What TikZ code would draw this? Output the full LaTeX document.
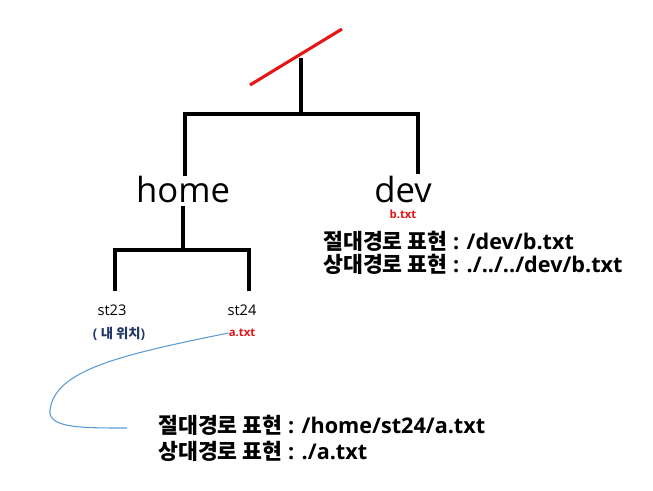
\documentclass[tikz,border=0pt]{standalone}
\usepackage{fontspec}
\setmainfont{Open Sans}
\newfontfamily\kr{Noto Sans CJK KR}
\definecolor{myred}{RGB}{230,20,20}
\definecolor{mynavy}{RGB}{31,56,100}
\definecolor{myblue}{RGB}{91,155,213}
\tikzset{
  tree/.style={line width=2.3pt, black},
  big/.style={font=\fontsize{26}{30}\selectfont, inner sep=0pt},
  small/.style={font=\fontsize{11}{13}\selectfont, inner sep=0pt},
  fname/.style={font=\bfseries\fontsize{8.5}{10}\selectfont, text=myred, inner sep=0pt},
  note/.style={inner sep=0pt, anchor=west, align=left},
}
\begin{document}
\begin{tikzpicture}[x=0.75pt,y=-0.75pt]
\useasboundingbox (0,0) rectangle (653,490);
% root
\coordinate (r1) at (250,85);
\coordinate (r2) at (342,29);
\draw[line width=2.3pt, myred] (r1) -- (r2);
\coordinate (root) at (301,58);
\coordinate (rootj) at (301,114);
\coordinate (homeTop) at (185,176);
\coordinate (devTop) at (418,174);
\draw[tree] (root) -- (rootj);
\draw[tree] (homeTop) |- (rootj) -| (devTop);
% level 1
\node[big] (home) at (183,189) {home};
\node[big] (dev) at (403,189) {dev};
\node[fname] (btxt) at (403,214) {b.txt};
% home children
\coordinate (homeBot) at (183,206);
\coordinate (homej) at (183,250);
\coordinate (st23Top) at (115,291);
\coordinate (st24Top) at (249,291);
\draw[tree] (homeBot) -- (homej);
\draw[tree] (st23Top) |- (homej) -| (st24Top);
\node[small] (st23) at (112,310) {st23};
\node[small] (st24) at (242,310) {st24};
\node[font=\bfseries\fontsize{10}{12}\selectfont, text=mynavy, inner sep=0pt] (pos) at (119,334) {( {\kr 내 위치})};
\node[fname] (atxt) at (242,333) {a.txt};
% notes
\node[note, font=\bfseries\fontsize{16.2}{17}\selectfont] (devnote) at (323,253) {{\kr 절대경로 표현} : /dev/b.txt\\{\kr 상대경로 표현} : ./../../dev/b.txt};
\node[note, font=\bfseries\fontsize{16.2}{19.5}\selectfont] (anote) at (158,438) {{\kr 절대경로 표현} : /home/st24/a.txt\\{\kr 상대경로 표현} : ./a.txt};
% curve
\coordinate (cEnd) at (127,428);
\draw[myblue, line width=0.8pt] (atxt.west) .. controls (120,355) and (55,370) .. (50,410) .. controls (48,428) and (80,428) .. (cEnd);
\end{tikzpicture}
\end{document}
